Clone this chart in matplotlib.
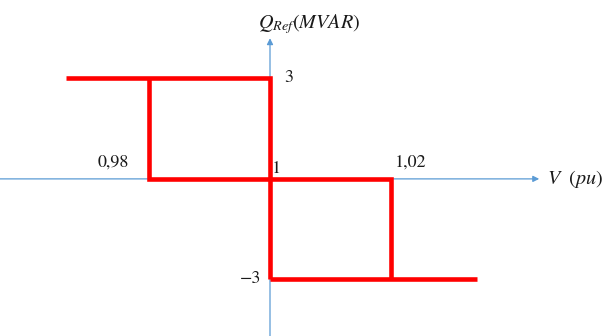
import matplotlib
matplotlib.use("Agg")
import matplotlib.pyplot as plt

plt.rcParams['mathtext.fontset'] = 'stix'

# Hysteresis characteristic data
upper_v = [0.9662, 1.00, 1.00]
upper_q = [3, 3, -3]
left_v = [0.98, 0.98, 1.00]
left_q = [3, 0, 0]
lower_v = [1.00, 1.0342]
lower_q = [-3, -3]
right_v = [1.00, 1.02, 1.02]
right_q = [0, 0, -3]

fig = plt.figure(figsize=(6.08, 3.36), dpi=100)
ax = fig.add_axes([0, 0, 1, 1])
ax.set_xlim(0.95537, 1.05587)
ax.set_ylim(-4.69, 5.34)
ax.axis('off')

# horizontal axis with arrow
ax.annotate('', xy=(1.0445, 0), xytext=(0.95537, 0), zorder=1,
            arrowprops=dict(arrowstyle='-|>', color='#5b9bd5', lw=0.9,
                            mutation_scale=9, shrinkA=0, shrinkB=0))
# vertical axis with arrow
ax.annotate('', xy=(1.0, 4.2), xytext=(1.0, -4.69), zorder=1,
            arrowprops=dict(arrowstyle='-|>', color='#5b9bd5', lw=0.9,
                            mutation_scale=9, shrinkA=0, shrinkB=0))

red = '#ff0000'
lw = 3.3
for vv, qq in [(upper_v, upper_q), (left_v, left_q), (lower_v, lower_q), (right_v, right_q)]:
    ax.plot(vv, qq, color=red, lw=lw, solid_joinstyle='miter', solid_capstyle='butt', zorder=5)

num_font = dict(family=['STIXGeneral', 'DejaVu Serif'], fontsize=13, color='#1a1a1a')
ax.text(0.98 - 0.0033, 0.25, "0,98", ha='right', va='bottom', **num_font)
ax.text(1.0003, 0.05, "1", ha='left', va='bottom', zorder=6, **num_font)
ax.text(1.0206, 0.25, "1,02", ha='left', va='bottom', **num_font)
ax.text(1.0024, 3.0, "3", ha='left', va='center', **num_font)
ax.text(0.9985, -3.0, "−3", ha='right', va='center', **num_font)

ax.text(1.0064, 4.5, r'$Q_{Ref}(MVAR)$', ha='center', va='baseline', fontsize=14.5, color='#1a1a1a')
ax.text(1.0458, 0.0, r'$V\ \ (pu)$', ha='left', va='center', fontsize=14.5, color='#1a1a1a')

fig.savefig('out.png', dpi=100)
